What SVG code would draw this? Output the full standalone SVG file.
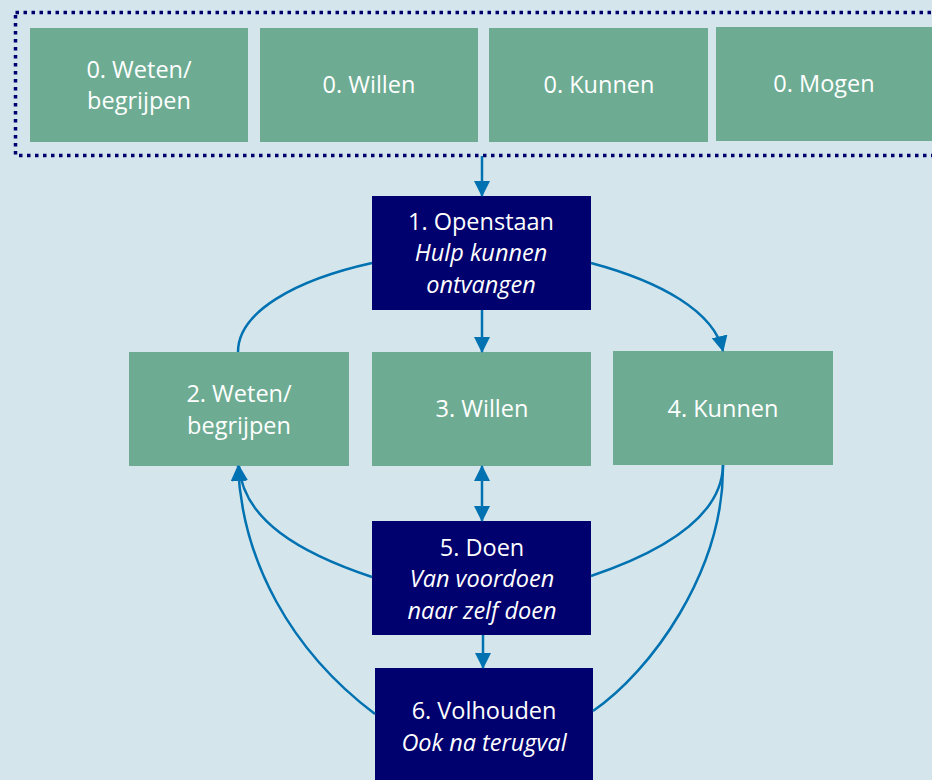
<svg xmlns="http://www.w3.org/2000/svg" width="932" height="780" viewBox="0 0 932 780">
  <style>
    .green { fill: #6dac93; }
    .navy { fill: #00006e; }
    .lbl { font-family: "Open Sans", "Noto Sans", sans-serif; font-size: 23.5px; fill: #ffffff; text-anchor: middle; }
    .it { font-style: italic; }
    .link { fill: none; stroke: #0071b1; stroke-width: 2.5; }
  </style>
  <defs>
    <marker id="arrow" markerUnits="userSpaceOnUse" markerWidth="16" markerHeight="16" viewBox="0 0 16 16" refX="15" refY="8" orient="auto-start-reverse">
      <path d="M0,0 L16,8 L0,16 Z" fill="#0071b1"/>
    </marker>
  </defs>

  <rect x="0" y="0" width="932" height="780" fill="#d4e6ec"/>

  <!-- dotted frame around the starting conditions -->
  <rect x="15.5" y="12.5" width="940" height="143" fill="none" stroke="#00006e" stroke-width="3.5" stroke-dasharray="3.5 4.5"/>

  <g id="n0-weten">
    <rect class="green" x="30" y="28" width="218" height="114"/>
    <text class="lbl" x="139" y="78">0. Weten/</text>
    <text class="lbl" x="139" y="109">begrijpen</text>
  </g>
  <g id="n0-willen">
    <rect class="green" x="260" y="28" width="218" height="114"/>
    <text class="lbl" x="369" y="93">0. Willen</text>
  </g>
  <g id="n0-kunnen">
    <rect class="green" x="489" y="28" width="219" height="114"/>
    <text class="lbl" x="599" y="93">0. Kunnen</text>
  </g>
  <g id="n0-mogen">
    <rect class="green" x="716" y="27" width="216" height="114"/>
    <text class="lbl" x="824" y="92">0. Mogen</text>
  </g>

  <g id="n1-openstaan">
    <rect class="navy" x="372" y="196" width="219" height="114"/>
    <text class="lbl" x="481" y="230">1. Openstaan</text>
    <text class="lbl it" x="481" y="261">Hulp kunnen</text>
    <text class="lbl it" x="481" y="293">ontvangen</text>
  </g>
  <g id="n2-weten">
    <rect class="green" x="129" y="352" width="220" height="114"/>
    <text class="lbl" x="239" y="402">2. Weten/</text>
    <text class="lbl" x="239" y="434">begrijpen</text>
  </g>
  <g id="n3-willen">
    <rect class="green" x="372" y="352" width="219" height="114"/>
    <text class="lbl" x="482" y="417">3. Willen</text>
  </g>
  <g id="n4-kunnen">
    <rect class="green" x="613" y="351" width="220" height="114"/>
    <text class="lbl" x="723" y="417">4. Kunnen</text>
  </g>
  <g id="n5-doen">
    <rect class="navy" x="372" y="521" width="219" height="114"/>
    <text class="lbl" x="482" y="556">5. Doen</text>
    <text class="lbl it" x="482" y="587">Van voordoen</text>
    <text class="lbl it" x="482" y="619">naar zelf doen</text>
  </g>
  <g id="n6-volhouden">
    <rect class="navy" x="375" y="668" width="218" height="120"/>
    <text class="lbl" x="484" y="719">6. Volhouden</text>
    <text class="lbl it" x="484" y="751">Ook na terugval</text>
  </g>

  <g id="connectors">
    <path class="link" d="M482,156 L482,196" marker-end="url(#arrow)"/>
    <path class="link" d="M482,310 L482,352" marker-end="url(#arrow)"/>
    <path class="link" d="M482,466 L482,521" marker-start="url(#arrow)" marker-end="url(#arrow)"/>
    <path class="link" d="M483,635 L483,668" marker-end="url(#arrow)"/>
    <path class="link" d="M372,263 C295,280 238,312 238,352"/>
    <path class="link" d="M591,263 C662,282 714,312 723,351" marker-end="url(#arrow)"/>
    <path class="link" d="M372,577 C300,553 243,520 239,466" marker-end="url(#arrow)"/>
    <path class="link" d="M375,714 C290,650 242,560 238,466" marker-end="url(#arrow)"/>
    <path class="link" d="M723,465 C722,522 650,556 591,576"/>
    <path class="link" d="M723,465 C724,572 650,672 593,711"/>
  </g>
</svg>
